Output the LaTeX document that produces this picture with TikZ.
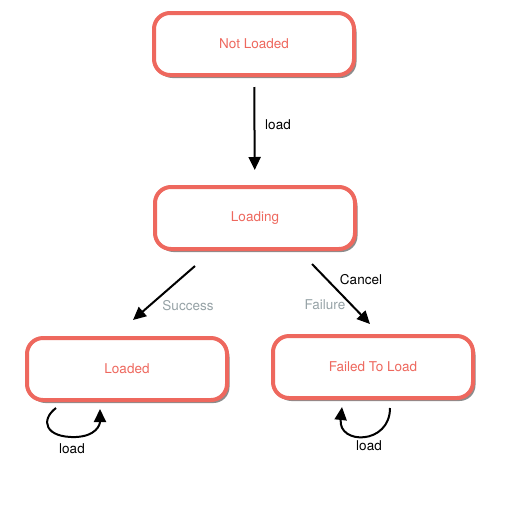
\documentclass[tikz,border=0pt]{standalone}
\usepackage{fontspec}
\setmainfont{TeX Gyre Heros}
\usepackage{tikz}
\usetikzlibrary{arrows.meta,shadows}
\definecolor{statered}{RGB}{238,104,94}
\definecolor{labelgray}{RGB}{150,162,166}
\tikzstyle{state}=[
        draw=statered, line width=4pt, fill=white, rounded corners=16pt,
        minimum width=200pt, minimum height=62pt, text=statered,
        drop shadow={shadow xshift=2.5pt, shadow yshift=-3pt, opacity=0.6, fill=black!75}
]
\tikzstyle{trans}=[
        line width=2pt, -{Triangle[length=13pt,width=12pt]}
]
\tikzstyle{lbl}=[
        font=\fontsize{13.5}{15}\selectfont
]

\begin{document}
\begin{tikzpicture}[x=1pt,y=-1pt,every node/.style={font=\fontsize{13.5}{15}\selectfont}]
                        \useasboundingbox (0,0) rectangle (508,507);

                        \node[state] (notloaded) at (254,44) {Not Loaded};
                        \node[state] (loading) at (255,218) {Loading};
                        \node[state] (loaded) at (127,369) {Loaded};
                        \node[state] (failed) at (373,367) {Failed To Load};

                        \draw[trans, shorten <=10pt, shorten >=15pt] (notloaded) -- (loading);
                        \node[lbl] (loadlbl) at (278,125) {load};

                        \draw[trans] ([xshift=-60pt,yshift=-15pt]loading.south) -- ([xshift=6pt,yshift=16pt]loaded.north);
                        \node[lbl, text=labelgray] (successlbl) at (188,306) {Success};

                        \draw[trans] ([xshift=57pt,yshift=-13pt]loading.south) -- ([xshift=-3pt,yshift=10pt]failed.north);
                        \node[lbl] (cancellbl) at (361,280) {Cancel};
                        \node[lbl, text=labelgray] (failurelbl) at (325,305) {Failure};

                        \draw[trans] ([xshift=-71pt,yshift=-6pt]loaded.south) .. controls (40,420) and (45,438) .. (76,437)
                                .. controls (96,436) and (100,425) .. (100,409);
                        \node[lbl] (loopalbl) at (72,449) {load};

                        \draw[trans] ([xshift=17pt,yshift=-8pt]failed.south) .. controls (390,445) and (338,445) .. (342,407);
                        \node[lbl] (loopblbl) at (369,446) {load};

                    \end{tikzpicture}
\end{document}
